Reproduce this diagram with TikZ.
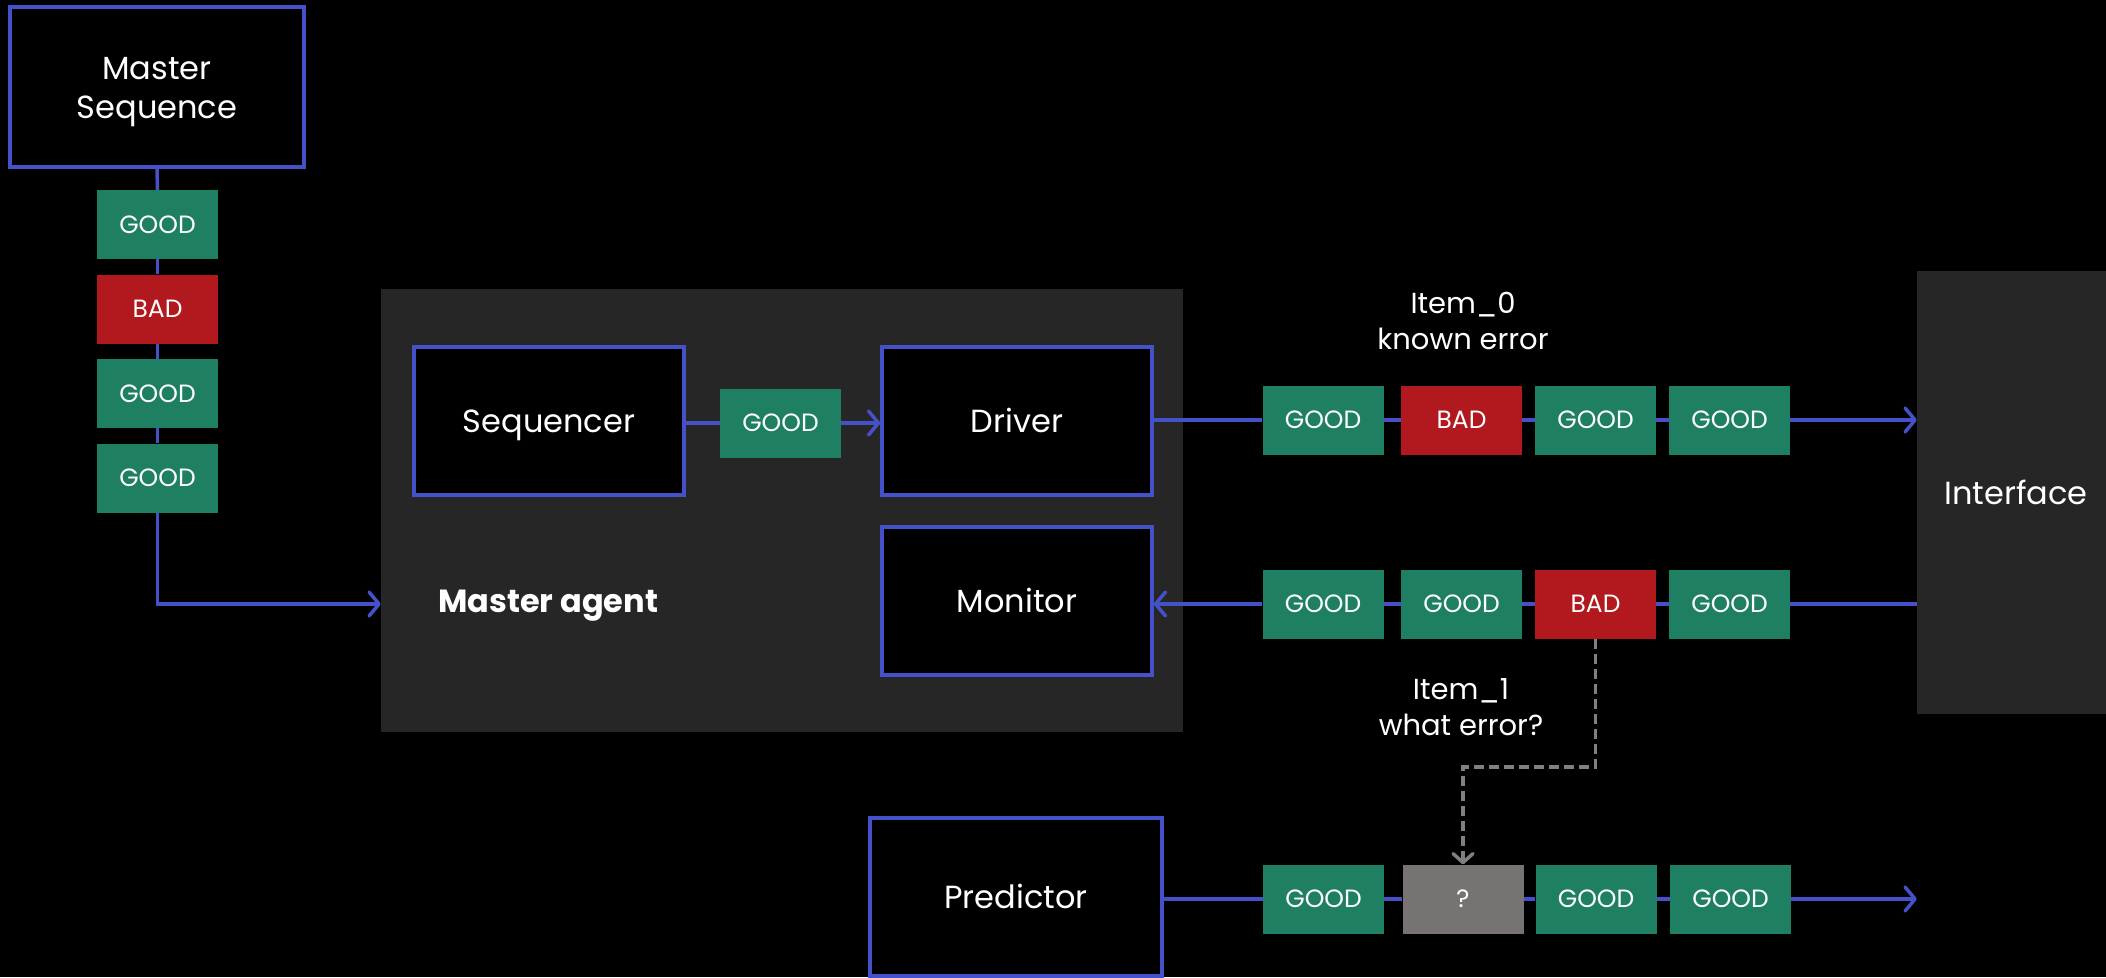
\documentclass[tikz,border=0pt]{standalone}
\usepackage{fontspec}
\setmainfont{Poppins}
\usetikzlibrary{arrows.meta}
\definecolor{wire}{HTML}{4451C8}
\definecolor{okgreen}{HTML}{1F7F63}
\definecolor{errred}{HTML}{B2191E}
\definecolor{unk}{HTML}{767372}
\definecolor{panel}{HTML}{262626}
\definecolor{dashgray}{HTML}{808080}
\begin{document}
\begin{tikzpicture}[x=1pt,y=-1pt,
  block/.style={draw=wire,line width=3.5pt,fill=black,text=white,
    minimum width=270pt,minimum height=148pt,inner sep=0pt,align=center,
    text height=23pt,text depth=0pt,
    font=\fontsize{32}{39}\selectfont},
  chip/.style={fill=okgreen,text=white,minimum width=121pt,minimum height=69pt,
    inner sep=0pt,text height=17.5pt,text depth=0pt,
    font=\fontsize{25}{30}\selectfont},
  bad/.style={chip,fill=errred},
  unknown/.style={chip,fill=unk},
  panelbox/.style={fill=panel,inner sep=0pt},
  note/.style={text=white,align=center,font=\fontsize{29}{36}\selectfont},
  wireline/.style={draw=wire,line width=3.5pt},
  flow/.style={wireline,-{Straight Barb[length=10pt,width=24pt,round]}},
  probe/.style={draw=dashgray,line width=3.5pt,dash pattern=on 10pt off 5pt,
    -{Straight Barb[length=9pt,width=20pt,round]}}
]
% canvas
\fill[black] (0,0) rectangle (2106,977);
\useasboundingbox (0,0) rectangle (2106,977);

% grey panels
\node[panelbox,minimum width=802pt,minimum height=443pt] (agent) at (782,510.5) {};
\node[panelbox,minimum width=200pt,minimum height=443pt] (iface) at (2017,492.5) {};
\node[text=white,text height=23pt,text depth=0pt,inner sep=0pt,
      font=\fontsize{32}{39}\selectfont] (ifacelbl) at (2016,493) {Interface};
\node[anchor=base west,inner sep=0pt,text=white,
      font=\bfseries\fontsize{32}{38}\selectfont] (agentlbl) at (438,612) {Master agent};

% master sequence column
\node[block,minimum width=294pt,minimum height=160pt,text height=63pt,text depth=0pt]
  (ms) at (157,87) {Master\\Sequence};
\node[chip] (c1) at (157.5,224.5) {GOOD};
\node[bad]  (c2) at (157.5,309) {BAD};
\node[chip] (c3) at (157.5,393.5) {GOOD};
\node[chip] (c4) at (157.5,478) {GOOD};

% agent internals
\node[block] (seq) at (549,421) {Sequencer};
\node[chip]  (sg)  at (780.5,423) {GOOD};
\node[block] (drv) at (1017,421) {Driver};
\node[block] (mon) at (1017,601) {Monitor};

% driver output row
\node[chip] (r1a) at (1323,420) {GOOD};
\node[bad]  (r1b) at (1461.5,420) {BAD};
\node[chip] (r1c) at (1595.5,420) {GOOD};
\node[chip] (r1d) at (1729.5,420) {GOOD};

% monitor input row
\node[chip] (r2a) at (1323,604) {GOOD};
\node[chip] (r2b) at (1461.5,604) {GOOD};
\node[bad]  (r2c) at (1595.5,604) {BAD};
\node[chip] (r2d) at (1729.5,604) {GOOD};

% predictor row
\node[block,minimum width=292pt,minimum height=158pt] (pred) at (1016,897) {Predictor};
\node[chip]    (r3a) at (1323.5,899) {GOOD};
\node[unknown] (r3b) at (1463,899) {?};
\node[chip]    (r3c) at (1596,899) {GOOD};
\node[chip]    (r3d) at (1730.5,899) {GOOD};

% annotations
\node[note] (item0) at (1463,321) {Item\_0\\known error};
\node[note] (item1) at (1461,707) {Item\_1\\what error?};

% master sequence into the agent
\draw[wireline] (ms.south) -- (c1.north);
\draw[wireline] (c1.south) -- (c2.north);
\draw[wireline] (c2.south) -- (c3.north);
\draw[wireline] (c3.south) -- (c4.north);
\draw[flow] (c4.south) |- (agent.west |- r2a);

% sequencer to driver
\draw[wireline] (seq.east |- sg) -- (sg.west);
\draw[flow] (sg.east) -- (drv.west |- sg);

% driver to interface
\draw[wireline] (drv.east |- r1a) -- (r1a.west);
\draw[wireline] (r1a.east) -- (r1b.west);
\draw[wireline] (r1b.east) -- (r1c.west);
\draw[wireline] (r1c.east) -- (r1d.west);
\draw[flow] (r1d.east) -- (iface.west |- r1d);

% interface to monitor
\draw[wireline] (iface.west |- r2d) -- (r2d.east);
\draw[wireline] (r2d.west) -- (r2c.east);
\draw[wireline] (r2c.west) -- (r2b.east);
\draw[wireline] (r2b.west) -- (r2a.east);
\draw[flow] (r2a.west) -- (mon.east |- r2a);

% predictor output
\draw[wireline] (pred.east |- r3a) -- (r3a.west);
\draw[wireline] (r3a.east) -- (r3b.west);
\draw[wireline] (r3b.east) -- (r3c.west);
\draw[wireline] (r3c.east) -- (r3d.west);
\draw[flow] (r3d.east) -- (iface.west |- r3d);

% unknown error probe
\coordinate (bend) at (1595.5,767);
\draw[probe] (r2c.south) -- (bend) -| (r3b.north);
\end{tikzpicture}
\end{document}
